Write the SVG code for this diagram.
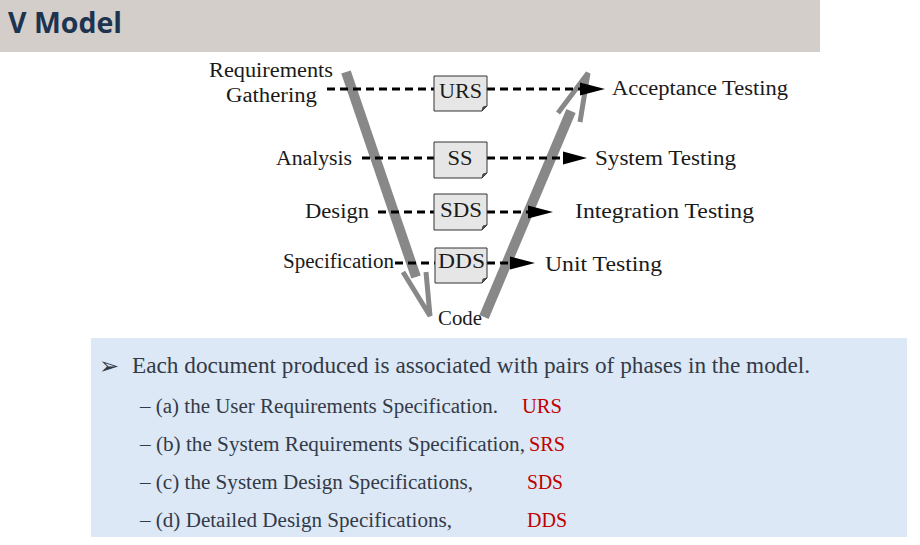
<svg xmlns="http://www.w3.org/2000/svg" width="920" height="545" viewBox="0 0 920 545">
<style>
.lbl{font-size:20px;fill:#1a1a1a}
.doc{font-size:20px;fill:#1a1a1a;text-anchor:middle}
.box{fill:#e6e6e6;stroke:#333;stroke-width:1}
.fold{fill:#555;stroke:#333;stroke-width:0.8}
.dash{stroke:#000;stroke-width:3.2;stroke-dasharray:8 5;fill:none}
.head{fill:#000}
.shaft{stroke:#888;stroke-width:10;fill:none}
.chev{stroke:#888;stroke-width:5;fill:none;stroke-linejoin:miter}
.body{fill:#333a48}
.red{fill:#c00000;font-size:20px}
</style>
<rect x="0" y="0" width="820" height="52" fill="#d3cec9"/>
<text x="8" y="33" font-family="'Open Sans','Liberation Sans',sans-serif" font-weight="bold" font-size="29" fill="#1c3450" textLength="114" lengthAdjust="spacingAndGlyphs">V Model</text>

<g id="v-shape">
<line class="shaft" x1="346" y1="72" x2="416" y2="277"/>
<polyline class="chev" points="403,272 430,316 426,272"/>
<line class="shaft" x1="484" y1="317" x2="571" y2="111"/>
<polyline class="chev" points="558,113 588,73 580,122"/>
</g>

<g id="connectors">
<line class="dash" x1="327" y1="89" x2="434" y2="89"/>
<line class="dash" x1="487" y1="89" x2="582" y2="89"/>
<polygon class="head" points="580,82.5 605,89 580,95.5"/>
<line class="dash" x1="362" y1="158" x2="435" y2="158"/>
<line class="dash" x1="487" y1="158" x2="565" y2="158"/>
<polygon class="head" points="563,151.5 587,158 563,164.5"/>
<line class="dash" x1="378" y1="212" x2="434" y2="212"/>
<line class="dash" x1="487" y1="212" x2="530" y2="212"/>
<polygon class="head" points="528,205.5 553,212 528,218.5"/>
<line class="dash" x1="395" y1="263" x2="435" y2="263"/>
<line class="dash" x1="487" y1="263" x2="512" y2="263"/>
<polygon class="head" points="510,256.5 535,263 510,269.5"/>
</g>

<g font-family="'Liberation Serif','DejaVu Serif',serif">
<g id="phase-requirements">
<text class="lbl" x="209" y="77" textLength="124" lengthAdjust="spacingAndGlyphs">Requirements</text>
<text class="lbl" x="226" y="102" textLength="91" lengthAdjust="spacingAndGlyphs">Gathering</text>
</g>
<g id="phase-analysis"><text class="lbl" x="276" y="165" textLength="76" lengthAdjust="spacingAndGlyphs">Analysis</text></g>
<g id="phase-design"><text class="lbl" x="305" y="218" textLength="64" lengthAdjust="spacingAndGlyphs">Design</text></g>
<g id="phase-specification"><text class="lbl" x="283" y="268" textLength="111" lengthAdjust="spacingAndGlyphs">Specification</text></g>
<g id="phase-code"><text class="lbl" x="438" y="325" textLength="44" lengthAdjust="spacingAndGlyphs">Code</text></g>

<g id="doc-urs">
<path class="box" d="M434,76 H487 V106 L482,111 H434 Z"/>
<path class="fold" d="M482,111 L483,107 L487,106 Z"/>
<text class="doc" x="460.5" y="98" textLength="43" lengthAdjust="spacingAndGlyphs">URS</text>
</g>
<g id="doc-ss">
<path class="box" d="M434,142 H487 V173 L482,178 H434 Z"/>
<path class="fold" d="M482,178 L483,174 L487,173 Z"/>
<text class="doc" x="460" y="165" textLength="25" lengthAdjust="spacingAndGlyphs">SS</text>
</g>
<g id="doc-sds">
<path class="box" d="M434,194 H487 V225 L482,230 H434 Z"/>
<path class="fold" d="M482,230 L483,226 L487,225 Z"/>
<text class="doc" x="461" y="217" textLength="42" lengthAdjust="spacingAndGlyphs">SDS</text>
</g>
<g id="doc-dds">
<path class="box" d="M435,248 H487 V278 L482,283 H435 Z"/>
<path class="fold" d="M482,283 L483,279 L487,278 Z"/>
<text class="doc" x="461.5" y="268" textLength="47" lengthAdjust="spacingAndGlyphs">DDS</text>
</g>

<g id="test-acceptance"><text class="lbl" x="612" y="95" textLength="176" lengthAdjust="spacingAndGlyphs">Acceptance Testing</text></g>
<g id="test-system"><text class="lbl" x="595" y="165" textLength="141" lengthAdjust="spacingAndGlyphs">System Testing</text></g>
<g id="test-integration"><text class="lbl" x="575" y="218" textLength="179" lengthAdjust="spacingAndGlyphs">Integration Testing</text></g>
<g id="test-unit"><text class="lbl" x="545" y="271" textLength="117" lengthAdjust="spacingAndGlyphs">Unit Testing</text></g>
</g>

<g id="notes">
<rect x="91" y="338" width="816" height="199" fill="#dce8f5"/>
<text x="99" y="374" font-family="'DejaVu Sans',sans-serif" font-size="24" fill="#333a48">➢</text>
<g font-family="'Liberation Serif','DejaVu Serif',serif">
<text class="body" x="132" y="373" font-size="23" textLength="678" lengthAdjust="spacingAndGlyphs">Each document produced is associated with pairs of phases in the model.</text>
<text class="body" x="140" y="413" font-size="20" textLength="358" lengthAdjust="spacingAndGlyphs">– (a) the User Requirements Specification.</text>
<text class="red" x="522" y="413" textLength="40" lengthAdjust="spacingAndGlyphs">URS</text>
<text class="body" x="140" y="451" font-size="20" textLength="385" lengthAdjust="spacingAndGlyphs">– (b) the System Requirements Specification,</text>
<text class="red" x="529" y="451" textLength="36" lengthAdjust="spacingAndGlyphs">SRS</text>
<text class="body" x="140" y="489" font-size="20" textLength="333" lengthAdjust="spacingAndGlyphs">– (c) the System Design Specifications,</text>
<text class="red" x="527" y="489" textLength="36" lengthAdjust="spacingAndGlyphs">SDS</text>
<text class="body" x="140" y="527" font-size="20" textLength="312" lengthAdjust="spacingAndGlyphs">– (d) Detailed Design Specifications,</text>
<text class="red" x="527" y="527" textLength="40" lengthAdjust="spacingAndGlyphs">DDS</text>
</g>
</g>
</svg>
